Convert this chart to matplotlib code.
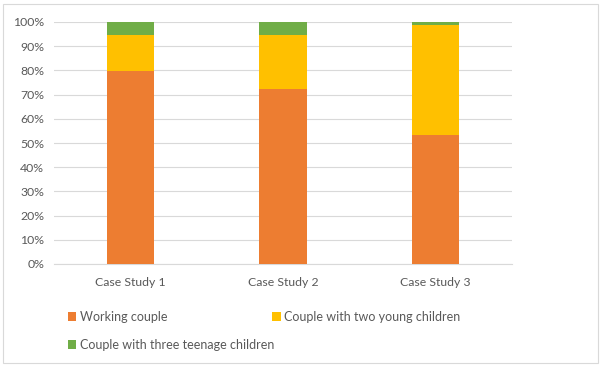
import matplotlib.pyplot as plt
import numpy as np
from matplotlib.ticker import PercentFormatter
from matplotlib.patches import Rectangle

# Data (percent)
categories = ['Case Study 1', 'Case Study 2', 'Case Study 3']
working_couple = [79.9, 72.2, 53.3]
two_young = [14.6, 22.3, 45.3]
three_teen = [5.5, 5.5, 1.4]
series_names = ['Working couple', 'Couple with two young children',
                'Couple with three teenage children']
colors = ['#ED7D31', '#FFC000', '#70AD47']

plt.rcParams['font.family'] = ['Lato', 'DejaVu Sans']
FS = 8.8

fig = plt.figure(figsize=(6.02, 3.65), dpi=100)
ax = fig.add_axes([54 / 602, 1 - 264 / 365, 458 / 602, 242 / 365])

x = np.arange(len(categories))
bottom = np.zeros(len(categories))
bars = []
for vals, name, c in zip([working_couple, two_young, three_teen], series_names, colors):
    b = ax.bar(x, vals, width=0.31, bottom=bottom, color=c, label=name, zorder=3)
    bars.append(b)
    bottom += np.array(vals)

ax.set_xlim(-0.5, 2.5)
ax.set_ylim(0, 100)
ax.set_yticks(range(0, 101, 10))
ax.yaxis.set_major_formatter(PercentFormatter(decimals=0))
ax.set_xticks(x)
ax.set_xticklabels(categories)
ax.grid(axis='y', color='#d9d9d9', linewidth=0.8, zorder=0)
for s in ['top', 'right', 'left']:
    ax.spines[s].set_visible(False)
ax.spines['bottom'].set_color('#d9d9d9')
ax.tick_params(axis='both', length=0, colors='#595959', labelsize=FS)
ax.tick_params(axis='x', pad=9)
ax.tick_params(axis='y', pad=7)

# legend: first row with two entries, second row with one
leg_kw = dict(loc='center left', frameon=False, fontsize=9, handlelength=0.65,
              handleheight=0.65, handletextpad=0.3, borderpad=0, borderaxespad=0)
leg1 = fig.legend(handles=bars[:2], labels=series_names[:2], ncol=2,
                  bbox_to_anchor=(68 / 602, 1 - 317 / 365), columnspacing=8.4, **leg_kw)
leg2 = fig.legend(handles=bars[2:], labels=series_names[2:], ncol=1,
                  bbox_to_anchor=(68 / 602, 1 - 345 / 365), **leg_kw)
for lg in (leg1, leg2):
    for t in lg.get_texts():
        t.set_color('#595959')

# light chart border
fig.patches.append(Rectangle((3 / 602, 2 / 365), 595 / 602, 359 / 365,
                             transform=fig.transFigure, fill=False,
                             edgecolor='#d9d9d9', linewidth=0.8))

fig.savefig('out.png', dpi=100)
